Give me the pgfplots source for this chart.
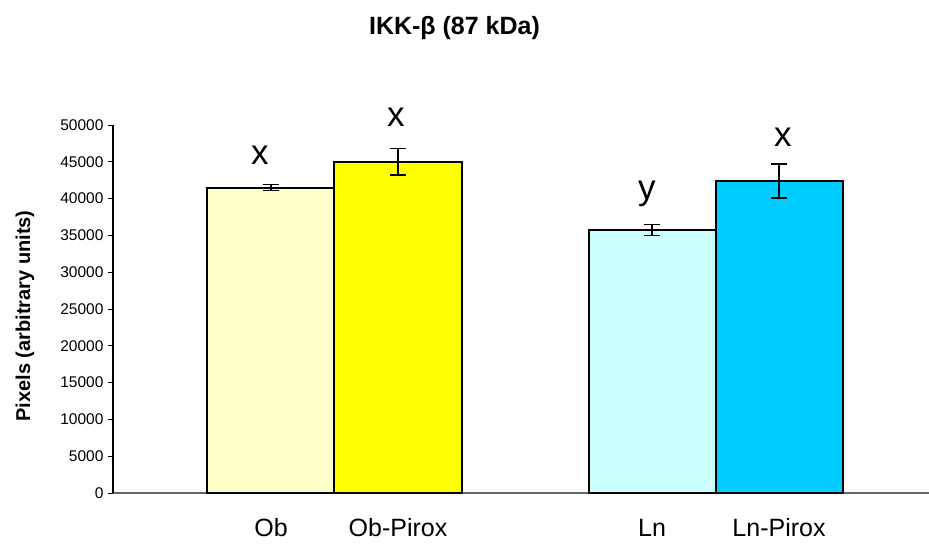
\documentclass[border=0pt]{standalone}
\usepackage{pgfplots}
\pgfplotsset{compat=1.18}
\usepackage{fontspec}
\setmainfont{Liberation Sans}

\definecolor{obcol}{HTML}{FFFFCC}
\definecolor{obpcol}{HTML}{FFFF00}
\definecolor{lncol}{HTML}{CCFFFF}
\definecolor{lnpcol}{HTML}{00CCFF}

\begin{document}
\begin{tikzpicture}
\path[use as bounding box] (0,0) rectangle (929pt,544pt);

% title and vertical axis label
\node[font=\fontsize{25}{28}\selectfont\bfseries] at (454.5pt,516pt) {IKK-β (87 kDa)};
\node[font=\fontsize{20}{24}\selectfont\bfseries, rotate=90] at (25pt,228pt) {Pixels (arbitrary units)};

\begin{axis}[
  at={(113pt,51pt)}, anchor=south west,
  scale only axis, width=816pt, height=368pt,
  xmin=-1.244, xmax=5.181,
  ymin=0, ymax=50000,
  axis x line=bottom, axis y line=left,
  axis line style={-},
  x axis line style={draw=gray!80!black, line width=1.3pt},
  y axis line style={draw=black, line width=1.1pt},
  ytick={0,5000,...,50000},
  xtick={0,1,3,4},
  xticklabels={Ob,Ob-Pirox,Ln,Ln-Pirox},
  x tick style={draw=none},
  y tick style={draw=black, line width=0.9pt},
  tick align=outside,
  major tick length=5pt,
  yticklabel style={font=\fontsize{15.5}{18}\selectfont, xshift=-1pt},
  xticklabel style={font=\fontsize{25}{29}\selectfont, anchor=base, inner sep=0pt, yshift=-38pt},
  /pgf/number format/assume math mode=true,
  /pgf/number format/set thousands separator={},
  scaled y ticks=false,
  ybar, bar width=1, bar shift=0pt,
  clip=false,
  error bars/y dir=both, error bars/y explicit,
  error bars/error bar style={black, line width=1.4pt},
  error bars/error mark options={rotate=90, mark size=8pt, line width=1.4pt, black},
]
\addplot[fill=obcol, draw=black, line width=2pt] coordinates {(0,41500) +- (0,380)};
\addplot[fill=obpcol, draw=black, line width=2pt] coordinates {(1,45000) +- (0,1800)};
\addplot[fill=lncol, draw=black, line width=2pt] coordinates {(3,35700) +- (0,750)};
\addplot[fill=lnpcol, draw=black, line width=2pt] coordinates {(4,42400) +- (0,2300)};

% significance letters
\node[anchor=base, font=\fontsize{35}{40}\selectfont] at (axis cs:-0.087,44660) {x};
\node[anchor=base, font=\fontsize{35}{40}\selectfont] at (axis cs:0.984,49864) {x};
\node[anchor=base, font=\fontsize{35}{40}\selectfont] at (axis cs:2.96,39810) {y};
\node[anchor=base, font=\fontsize{35}{40}\selectfont] at (axis cs:4.03,47050) {x};
\end{axis}
\end{tikzpicture}
\end{document}
